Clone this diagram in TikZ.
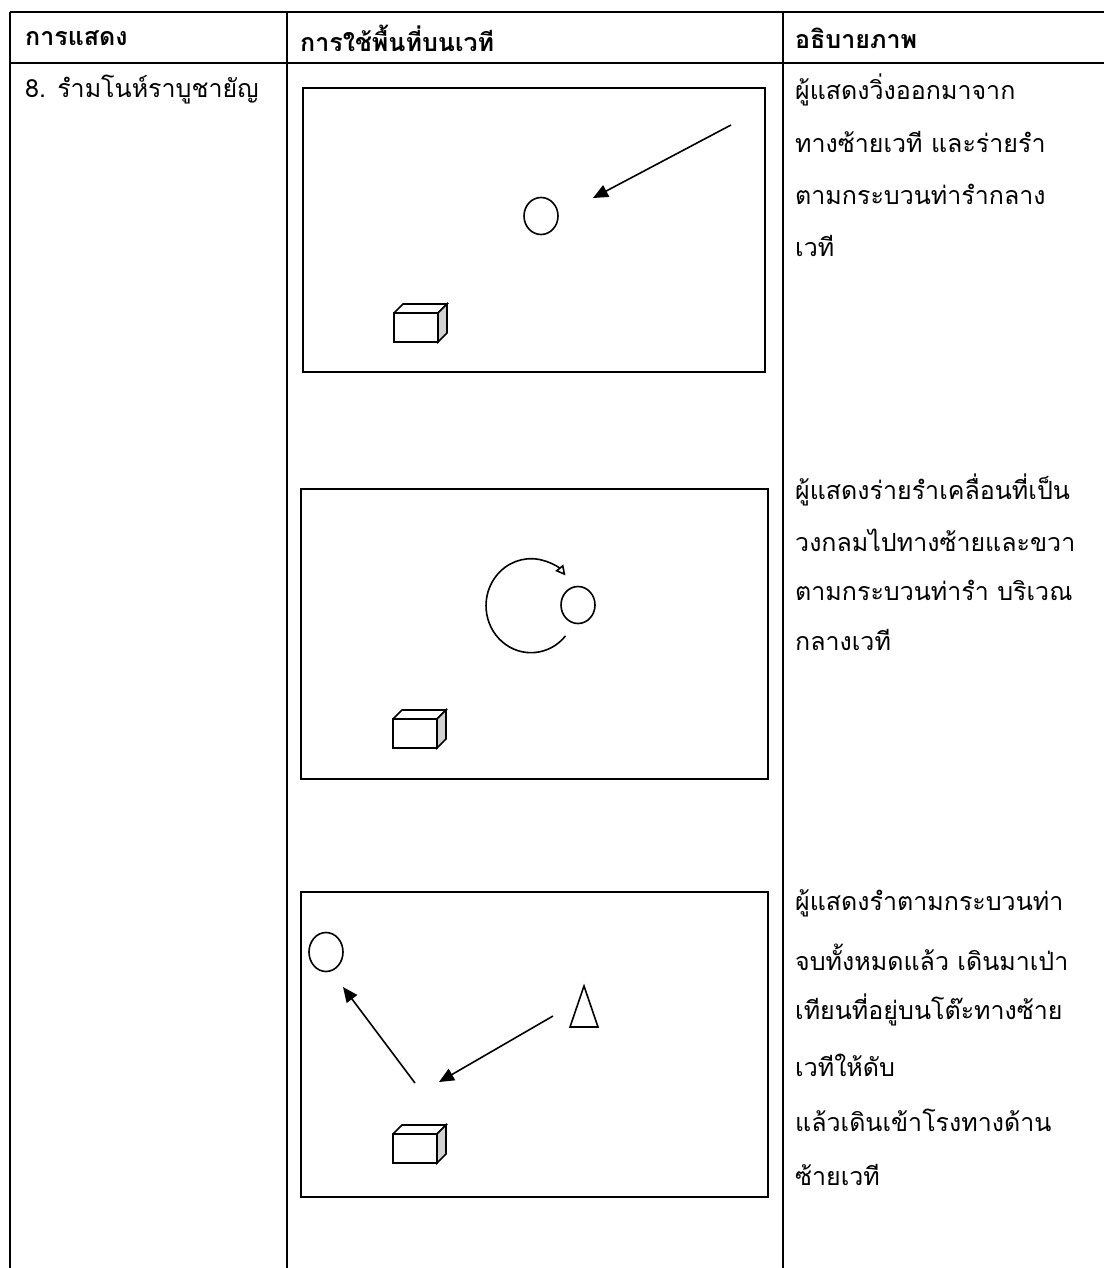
\documentclass[tikz,border=0pt]{standalone}
\usepackage{fontspec}
\newfontfamily\thaifont[Script=Thai]{Loma}
\usepackage{tikz}
\usetikzlibrary{arrows.meta,shapes.geometric}

\tikzset{
  pics/desk/.style={code={
    \draw[line width=1.6pt] (0,0) rectangle (44,29);
    \draw[line width=1.6pt] (0,0) -- (9,-9) -- (53,-9) -- (44,0);
    \draw[line width=1.6pt, fill=gray!35] (44,0) -- (53,-9) -- (53,20) -- (44,29) -- cycle;
  }}
}

\begin{document}
\begin{tikzpicture}[x=1pt, y=-1pt,
  txt/.style={anchor=west, inner sep=0pt, font=\thaifont\fontsize{25}{30}\selectfont},
  head/.style={txt, font=\thaifont\bfseries\fontsize{25}{30}\selectfont},
  stage/.style={draw, line width=2pt, anchor=north west, inner sep=0pt},
  dancer/.style={draw, ellipse, line width=1.6pt, inner sep=0pt, minimum width=34pt, minimum height=37pt},
  walk/.style={line width=1.6pt, -{Triangle[length=15pt, width=13pt]}},
  turn/.style={line width=1.6pt, -{Triangle[open, length=10pt, width=10pt]}}]
\useasboundingbox (0,0) rectangle (1104,1268);

\draw[line width=2.6pt] (10,12) -- (1104,12);
\draw[line width=2.6pt] (10,63) -- (1104,63);
\draw[line width=2.6pt] (10,12) -- (10,1268);
\draw[line width=2.6pt] (287,12) -- (287,1268);
\draw[line width=2.6pt] (783,12) -- (783,1268);

\node (h1) [head] at (25,38) {การแสดง};
\node (h2) [head] at (300,38) {การใช้พื้นที่บนเวที};
\node (h3) [head] at (795,38) {อธิบายภาพ};
\node (r1) [txt] at (25,90) {8. รำมโนห์ราบูชายัญ};

\node (d1) [txt] at (795,90) {ผู้แสดงวิ่งออกมาจาก};
\node (d2) [txt] at (795,142) {ทางซ้ายเวที และร่ายรำ};
\node (d3) [txt] at (795,194) {ตามกระบวนท่ารำกลาง};
\node (d4) [txt] at (795,246) {เวที};

\node (e1) [txt] at (795,490) {ผู้แสดงร่ายรำเคลื่อนที่เป็น};
\node (e2) [txt] at (795,540) {วงกลมไปทางซ้ายและขวา};
\node (e3) [txt] at (795,590) {ตามกระบวนท่ารำ บริเวณ};
\node (e4) [txt] at (795,640) {กลางเวที};

\node (f1) [txt] at (795,903) {ผู้แสดงรำตามกระบวนท่า};
\node (f2) [txt] at (795,957) {จบทั้งหมดแล้ว เดินมาเป่า};
\node (f3) [txt] at (795,1010) {เทียนที่อยู่บนโต๊ะทางซ้าย};
\node (f4) [txt] at (795,1065) {เวทีให้ดับ};
\node (f5) [txt] at (795,1120) {แล้วเดินเข้าโรงทางด้าน};
\node (f6) [txt] at (795,1175) {ซ้ายเวที};

\node (s1) [stage, minimum width=462pt, minimum height=284pt] at (302,87) {};
\node (s2) [stage, minimum width=467pt, minimum height=290pt] at (300,488) {};
\node (s3) [stage, minimum width=467pt, minimum height=305pt] at (300,891) {};

\node (p1) [dancer] at (541,216) {};
\coordinate (a1) at (731,125);
\coordinate (b1) at (593,198);
\draw[walk] (a1) -- (b1);
\pic at (394,313) {desk};

\node (p2) [dancer] at (578,605) {};
\draw[turn] (565.5,635.9) arc[start angle=40, end angle=320, x radius=45, y radius=47];
\pic at (393,719) {desk};

\node (p3) [dancer, minimum height=39pt] at (326,952) {};
\coordinate (c1) at (584,986);
\draw[line width=1.6pt] (c1) -- (598,1027) -- (570,1027) -- cycle;
\coordinate (a3) at (415,1083);
\coordinate (b3) at (343,987);
\coordinate (a4) at (553,1016);
\coordinate (b4) at (439,1082);
\draw[walk] (a3) -- (b3);
\draw[walk] (a4) -- (b4);
\pic at (393,1134) {desk};

\end{tikzpicture}
\end{document}
